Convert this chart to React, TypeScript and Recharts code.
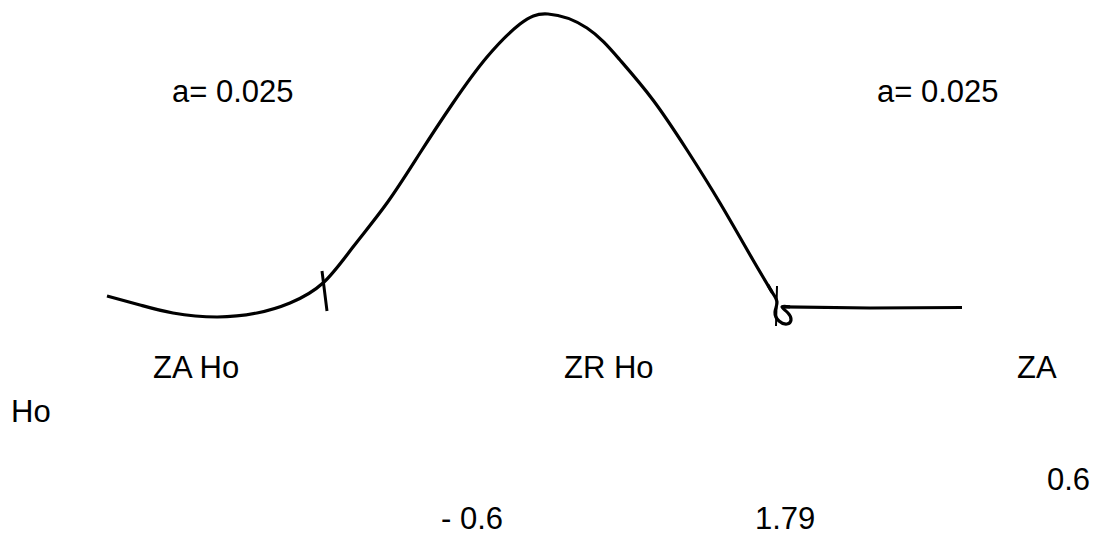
import React from 'react';
import { ComposedChart, Line, Scatter, XAxis, YAxis } from 'recharts';

// sketch coordinates (x to the right, y downward)
const mainCurve = [
  { x: 107, y: 296 }, { x: 140, y: 305 }, { x: 173, y: 313 }, { x: 217, y: 317 },
  { x: 257, y: 313 }, { x: 290, y: 303 }, { x: 323, y: 283 }, { x: 353, y: 247 },
  { x: 387, y: 203 }, { x: 420, y: 153 }, { x: 453, y: 103 }, { x: 487, y: 57 },
  { x: 520, y: 24 }, { x: 548, y: 14 }, { x: 587, y: 28 }, { x: 620, y: 60 },
  { x: 653, y: 100 }, { x: 687, y: 150 }, { x: 720, y: 203 }, { x: 753, y: 260 },
  { x: 772, y: 292 },
];

const loopCurve = [
  { x: 768, y: 285 }, { x: 772, y: 292 }, { x: 777, y: 302 }, { x: 775, y: 312 },
  { x: 779, y: 321 }, { x: 787, y: 324 }, { x: 791, y: 320 }, { x: 788, y: 313 },
  { x: 782, y: 307 }, { x: 790, y: 306.8 },
];

const flatLine = [
  { x: 783, y: 306.8 }, { x: 870, y: 308 }, { x: 962, y: 307.5 },
];

const leftTick = [{ x: 322, y: 271 }, { x: 327, y: 311 }];
const rightTick = [{ x: 777, y: 286 }, { x: 776, y: 326 }];

const labels = [
  { x: 172, y: 102, text: 'a= 0.025' },
  { x: 877, y: 102, text: 'a= 0.025' },
  { x: 153, y: 378, text: 'ZA Ho' },
  { x: 564, y: 378, text: 'ZR Ho' },
  { x: 1017, y: 378, text: 'ZA' },
  { x: 11, y: 422, text: 'Ho' },
  { x: 1047, y: 490, text: '0.6' },
  { x: 441, y: 529, text: '- 0.6' },
  { x: 755, y: 529, text: '1.79' },
];

const TextMark = (props: any) => (
  <text
    x={props.cx}
    y={props.cy}
    fill="#000"
    fontSize={31}
    fontFamily="'Liberation Sans', Arial, sans-serif"
  >
    {props.payload.text}
  </text>
);

export default function App() {
  return (
    <div style={{ position: 'absolute', left: 0, top: 0, width: 1100, height: 535, background: '#fff' }}>
      <ComposedChart width={1100} height={535} margin={{ top: 0, right: 0, bottom: 0, left: 0 }}>
        <XAxis type="number" dataKey="x" domain={[0, 1100]} hide allowDataOverflow />
        <YAxis type="number" dataKey="y" domain={[0, 535]} reversed hide allowDataOverflow />

        <Line data={mainCurve} dataKey="y" type="natural" stroke="#000" strokeWidth={3.2}
          dot={false} activeDot={false} isAnimationActive={false} />
        <Line data={loopCurve} dataKey="y" type="natural" stroke="#000" strokeWidth={3.2}
          dot={false} activeDot={false} isAnimationActive={false} />
        <Line data={flatLine} dataKey="y" type="linear" stroke="#000" strokeWidth={3.2}
          dot={false} activeDot={false} isAnimationActive={false} />
        <Line data={leftTick} dataKey="y" type="linear" stroke="#000" strokeWidth={3}
          dot={false} activeDot={false} isAnimationActive={false} />
        <Line data={rightTick} dataKey="y" type="linear" stroke="#000" strokeWidth={2}
          dot={false} activeDot={false} isAnimationActive={false} />

        <Scatter data={labels} dataKey="y" shape={TextMark} isAnimationActive={false} />
      </ComposedChart>
    </div>
  );
}
